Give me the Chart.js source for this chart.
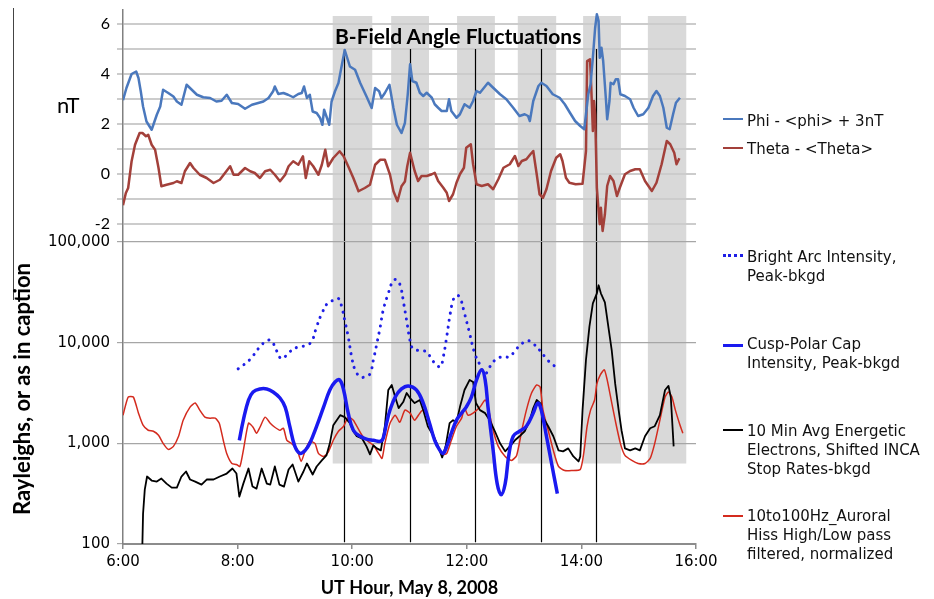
<!DOCTYPE html>
<html>
<head>
<meta charset="utf-8">
<script src="https://cdn.jsdelivr.net/npm/chart.js@4.4.1/dist/chart.umd.min.js"></script>
<style>
body { margin: 0; background: #fff; }
#wrap { position: relative; width: 934px; height: 599px; overflow: hidden; background: #fff; }
#wrap canvas { position: absolute; left: 0; }
.txt { position: absolute; white-space: nowrap; color: #000; }
.leg { position: absolute; left: 747px; font: 15px "DejaVu Sans"; line-height: 19px; white-space: nowrap; color: #111; }
.sw { position: absolute; left: 723px; width: 20px; height: 0; }
#ytitle { position: absolute; left: 22px; top: 389px; transform: translate(-50%, -50%) rotate(-90deg);
  font: bold 22px Lato; line-height: 24px; white-space: nowrap; color: #000; }
#edge { position: absolute; left: 13px; top: 8px; width: 0; height: 292px; border-left: 1.5px solid #444; }
</style>
</head>
<body>
<div id="wrap">
  <canvas id="topChart" width="934" height="242" style="top:0"></canvas>
  <canvas id="bottomChart" width="934" height="368" style="top:231px"></canvas>
  <div id="edge"></div>
  <div class="txt" style="left:335px;top:24px;font:bold 21px Lato;line-height:24px">B-Field Angle Fluctuations</div>
  <div class="txt" style="left:57px;top:92px;font:22px Lato;line-height:26px">nT</div>
  <div id="ytitle">Rayleighs, or as in caption</div>

  <div class="sw" style="top:118px;border-top:2.5px solid #4a78bd"></div>
  <div class="leg" style="top:112px">Phi - &lt;phi&gt; + 3nT</div>
  <div class="sw" style="top:147px;border-top:2.5px solid #a3403a"></div>
  <div class="leg" style="top:140px">Theta - &lt;Theta&gt;</div>

  <div class="sw" style="top:254px;border-top:3px dotted #1e1ee6"></div>
  <div class="leg" style="top:248px">Bright Arc Intensity,<br>Peak-bkgd</div>
  <div class="sw" style="top:344px;border-top:3px solid #1a1af0"></div>
  <div class="leg" style="top:335px">Cusp-Polar Cap<br>Intensity, Peak-bkgd</div>
  <div class="sw" style="top:429px;border-top:2px solid #000"></div>
  <div class="leg" style="top:422px">10 Min Avg Energetic<br>Electrons, Shifted INCA<br>Stop Rates-bkgd</div>
  <div class="sw" style="top:515px;border-top:2px solid #d42b1e"></div>
  <div class="leg" style="top:507px">10to100Hz_Auroral<br>Hiss High/Low pass<br>filtered, normalized</div>
</div>
<script>
// UT hour vs value
const phiSeries = [
  [6.0, 2.95], [6.06, 3.44], [6.15, 4.0], [6.23, 4.1], [6.27, 3.84], [6.31, 3.31], [6.35, 2.7], [6.41, 2.1],
  [6.50, 1.77], [6.59, 2.37], [6.65, 2.7], [6.70, 3.37], [6.79, 3.24], [6.88, 3.1], [6.94, 2.9], [7.02, 2.77],
  [7.11, 3.57], [7.20, 3.37], [7.29, 3.17], [7.40, 3.07], [7.52, 3.04], [7.63, 2.9], [7.72, 2.93], [7.81, 3.17],
  [7.90, 2.84], [8.01, 2.8], [8.13, 2.61], [8.25, 2.77], [8.36, 2.84], [8.45, 2.9], [8.54, 3.04], [8.62, 3.31],
  [8.65, 3.5], [8.71, 3.2], [8.80, 3.24], [8.88, 3.17], [8.97, 3.07], [9.06, 3.2], [9.12, 3.24], [9.16, 3.5],
  [9.21, 3.04], [9.26, 3.17], [9.31, 2.5], [9.38, 2.44], [9.44, 2.24], [9.48, 1.97], [9.51, 2.57], [9.56, 2.24],
  [9.60, 1.97], [9.64, 2.9], [9.70, 3.31], [9.76, 3.64], [9.82, 4.37], [9.87, 4.96], [9.96, 4.3], [10.05, 4.17],
  [10.14, 3.64], [10.25, 3.1], [10.34, 2.64], [10.40, 3.44], [10.47, 3.31], [10.51, 3.04], [10.57, 3.24],
  [10.65, 3.57], [10.72, 2.64], [10.78, 1.97], [10.86, 1.64], [10.92, 2.04], [10.97, 3.2], [11.01, 4.39],
  [11.05, 3.72], [11.12, 3.65], [11.18, 3.25], [11.24, 3.12], [11.30, 3.25], [11.39, 3.05], [11.44, 2.79],
  [11.50, 2.65], [11.56, 2.52], [11.65, 2.52], [11.69, 2.99], [11.73, 2.52], [11.82, 2.25], [11.88, 2.39],
  [11.96, 2.79], [12.05, 2.65], [12.11, 2.92], [12.17, 3.32], [12.23, 3.25], [12.37, 3.65], [12.46, 3.45],
  [12.58, 3.19], [12.69, 2.99], [12.81, 2.65], [12.92, 2.32], [13.01, 2.39], [13.07, 2.32], [13.10, 2.12],
  [13.16, 2.92], [13.25, 3.52], [13.30, 3.65], [13.39, 3.52], [13.50, 3.19], [13.62, 3.05], [13.71, 2.79],
  [13.80, 2.45], [13.89, 2.12], [13.98, 1.92], [14.05, 1.79], [14.08, 2.39], [14.12, 3.19], [14.16, 3.59],
  [14.20, 4.65], [14.24, 5.85], [14.27, 6.39], [14.30, 6.12], [14.32, 4.65], [14.35, 5.05], [14.38, 4.52],
  [14.43, 2.92], [14.45, 2.19], [14.49, 2.92], [14.51, 3.65], [14.56, 3.59], [14.60, 3.79], [14.64, 3.79],
  [14.68, 3.19], [14.76, 3.12], [14.85, 2.99], [14.91, 2.65], [14.99, 2.32], [15.08, 2.39], [15.17, 2.65],
  [15.25, 3.12], [15.31, 3.32], [15.37, 3.12], [15.43, 2.65], [15.49, 1.85], [15.54, 1.79], [15.60, 2.39],
  [15.65, 2.85], [15.72, 3.05]
];

const thetaSeries = [
  [6.0, -1.25], [6.05, -0.76], [6.09, -0.56], [6.15, 0.51], [6.21, 1.17], [6.29, 1.64], [6.34, 1.64], [6.40, 1.51],
  [6.44, 1.57], [6.50, 1.17], [6.56, 0.97], [6.62, 0.24], [6.67, -0.49], [6.76, -0.43], [6.88, -0.36], [6.94, -0.29],
  [7.02, -0.36], [7.08, 0.11], [7.17, 0.44], [7.23, 0.24], [7.34, -0.03], [7.46, -0.16], [7.58, -0.36], [7.69, -0.23],
  [7.78, 0.04], [7.87, 0.31], [7.93, -0.03], [8.01, -0.03], [8.13, 0.24], [8.22, 0.11], [8.30, 0.04], [8.39, -0.16],
  [8.48, 0.11], [8.57, 0.17], [8.65, -0.03], [8.74, -0.29], [8.83, -0.03], [8.89, 0.31], [8.97, 0.51], [9.06, 0.37],
  [9.14, 0.71], [9.19, -0.16], [9.25, 0.51], [9.32, 0.31], [9.41, -0.03], [9.47, 0.37], [9.53, 0.97], [9.58, 0.31],
  [9.67, 0.64], [9.78, 0.91], [9.85, 0.71], [9.93, 0.31], [10.02, -0.16], [10.11, -0.69], [10.22, -0.56],
  [10.31, -0.43], [10.40, 0.37], [10.49, 0.57], [10.57, 0.57], [10.66, -0.03], [10.72, -0.69], [10.79, -1.09],
  [10.86, -0.49], [10.92, -0.3], [10.96, 0.3], [11.01, 0.85], [11.09, 0.12], [11.15, -0.28], [11.21, -0.08],
  [11.30, -0.08], [11.39, -0.01], [11.44, 0.05], [11.50, -0.28], [11.59, -0.55], [11.65, -0.75], [11.69, -1.08],
  [11.76, -0.81], [11.82, -0.35], [11.88, -0.01], [11.95, 0.25], [11.99, 1.05], [12.07, 1.19], [12.11, 0.39],
  [12.17, -0.41], [12.26, -0.48], [12.37, -0.41], [12.46, -0.61], [12.55, -0.21], [12.64, 0.25], [12.75, 0.39],
  [12.84, 0.72], [12.90, 0.32], [12.96, 0.52], [13.04, 0.59], [13.11, 0.79], [13.16, 0.92], [13.22, -0.01],
  [13.27, -0.81], [13.33, -0.95], [13.39, -0.61], [13.47, 0.12], [13.56, 0.65], [13.63, 0.79], [13.67, 0.52],
  [13.73, -0.15], [13.79, -0.35], [13.90, -0.41], [14.02, -0.39], [14.08, 0.92], [14.10, 4.52], [14.15, 4.59],
  [14.17, 3.59], [14.20, 1.72], [14.22, 2.92], [14.24, 2.39], [14.27, -0.55], [14.30, -1.48], [14.32, -2.01],
  [14.34, -1.35], [14.37, -2.28], [14.41, -1.61], [14.45, -0.48], [14.50, -0.08], [14.56, -0.28], [14.62, -0.88],
  [14.67, -0.55], [14.76, -0.01], [14.85, 0.12], [14.94, 0.19], [15.02, 0.19], [15.11, -0.28], [15.23, -0.68],
  [15.31, -0.35], [15.40, 0.39], [15.49, 1.32], [15.55, 1.19], [15.62, 0.85], [15.66, 0.39], [15.71, 0.63]
];

const arcSeries = [
  [8.01, 5500], [8.21, 6760], [8.39, 9120], [8.51, 10470], [8.59, 10470], [8.68, 8320], [8.77, 6920], [8.91, 8130],
  [9.06, 9120], [9.18, 9330], [9.29, 10230], [9.38, 14450], [9.47, 19500], [9.58, 25100], [9.67, 26300],
  [9.76, 27500], [9.82, 22400], [9.87, 16600], [9.93, 11500], [9.99, 7240], [10.05, 5370], [10.14, 4570],
  [10.22, 4570], [10.31, 4900], [10.37, 6760], [10.43, 9770], [10.49, 14450], [10.54, 20900], [10.63, 30900],
  [10.72, 41700], [10.79, 41700], [10.85, 35000], [10.89, 26300], [10.95, 16600], [11.01, 10470], [11.06, 8710],
  [11.18, 8320], [11.30, 8130], [11.38, 6920], [11.47, 6030], [11.54, 5750], [11.59, 7240], [11.65, 11480],
  [11.70, 17780], [11.76, 26300], [11.82, 29500], [11.88, 28200], [11.96, 19500], [12.05, 12300], [12.14, 7760],
  [12.23, 6030], [12.32, 4900], [12.40, 5750], [12.52, 6920], [12.64, 7240], [12.75, 7240], [12.84, 8320],
  [12.96, 9770], [13.07, 10470], [13.16, 9770], [13.28, 8320], [13.39, 6920], [13.48, 6170], [13.58, 5620]
];

const cuspSeries = [
  [8.03, 1072], [8.10, 1700], [8.19, 2690], [8.27, 3240], [8.39, 3470], [8.51, 3470], [8.62, 3240], [8.74, 2820],
  [8.83, 2290], [8.91, 1480], [9.00, 933], [9.09, 794], [9.18, 851], [9.26, 1000], [9.38, 1480], [9.50, 2290],
  [9.61, 3390], [9.70, 4070], [9.78, 4270], [9.85, 3390], [9.93, 2000], [10.02, 1350], [10.14, 1175], [10.25, 1100],
  [10.37, 1072], [10.49, 1047], [10.54, 1122], [10.60, 1585], [10.66, 2140], [10.75, 2880], [10.86, 3470],
  [10.98, 3720], [11.12, 3390], [11.24, 2510], [11.35, 1585], [11.44, 1072], [11.53, 851], [11.59, 794],
  [11.65, 933], [11.73, 1260], [11.82, 1700], [11.91, 2000], [11.99, 2290], [12.08, 2880], [12.17, 4270],
  [12.26, 5370], [12.32, 4270], [12.37, 2290], [12.46, 851], [12.53, 398], [12.60, 309], [12.67, 398], [12.73, 741],
  [12.81, 1175], [12.92, 1318], [13.04, 1479], [13.16, 2000], [13.24, 2510], [13.30, 2140], [13.39, 1175],
  [13.48, 631], [13.58, 316]
];

const electronSeries = [
  [6.33, 60], [6.35, 200], [6.38, 347], [6.42, 468], [6.50, 427], [6.59, 417], [6.67, 447], [6.76, 398], [6.85, 363],
  [6.94, 363], [7.02, 468], [7.10, 525], [7.17, 437], [7.26, 417], [7.37, 389], [7.46, 437], [7.58, 437], [7.69, 468],
  [7.81, 501], [7.91, 562], [7.98, 501], [8.03, 295], [8.10, 398], [8.19, 562], [8.26, 372], [8.33, 355], [8.42, 562],
  [8.51, 398], [8.57, 389], [8.65, 589], [8.73, 389], [8.81, 372], [8.89, 550], [8.96, 617], [9.06, 417], [9.15, 525],
  [9.21, 631], [9.31, 490], [9.38, 589], [9.47, 676], [9.55, 759], [9.61, 1000], [9.67, 1514], [9.79, 1905],
  [9.87, 1820], [9.96, 1585], [10.02, 1318], [10.08, 1175], [10.17, 1122], [10.25, 933], [10.31, 776], [10.37, 955],
  [10.43, 891], [10.50, 851], [10.57, 1479], [10.63, 3390], [10.69, 3802], [10.75, 2884], [10.81, 2239],
  [10.89, 2570], [10.95, 3162], [11.01, 2818], [11.09, 2512], [11.18, 2692], [11.24, 2138], [11.32, 1479],
  [11.41, 1202], [11.50, 933], [11.57, 724], [11.63, 933], [11.70, 1585], [11.76, 1698], [11.82, 1622], [11.88, 2291],
  [11.96, 3388], [12.05, 4266], [12.11, 4074], [12.16, 2512], [12.23, 2138], [12.32, 1995], [12.40, 1698],
  [12.49, 1318], [12.58, 1000], [12.67, 832], [12.75, 933], [12.84, 1072], [12.92, 1175], [13.01, 1318],
  [13.10, 1698], [13.16, 2239], [13.22, 2692], [13.28, 2512], [13.33, 1820], [13.42, 1479], [13.51, 1175],
  [13.60, 851], [13.68, 832], [13.77, 891], [13.86, 741], [13.95, 661], [13.98, 741], [14.02, 2138], [14.08, 6761],
  [14.14, 14454], [14.20, 24547], [14.27, 30903], [14.30, 37154], [14.34, 30903], [14.41, 25119], [14.47, 14454],
  [14.53, 8318], [14.59, 3890], [14.65, 2138], [14.70, 1349], [14.76, 891], [14.85, 851], [14.94, 891], [15.02, 851],
  [15.11, 1175], [15.20, 1413], [15.28, 1479], [15.37, 1905], [15.46, 3388], [15.52, 3715], [15.56, 2884], [15.61, 933]
];

const hissSeries = [
  [6.0, 1900], [6.09, 2884], [6.18, 2884], [6.27, 1995], [6.35, 1514], [6.44, 1349], [6.53, 1318], [6.62, 1202],
  [6.70, 1000], [6.79, 871], [6.88, 933], [6.97, 1175], [7.05, 1698], [7.17, 2291], [7.26, 2512], [7.34, 2138],
  [7.43, 1820], [7.52, 1778], [7.61, 1778], [7.68, 1585], [7.75, 1072], [7.81, 794], [7.90, 631], [7.98, 617],
  [8.04, 589], [8.10, 851], [8.19, 1585], [8.27, 1445], [8.33, 1259], [8.39, 1445], [8.48, 1820], [8.57, 1585],
  [8.65, 1445], [8.74, 1349], [8.80, 1413], [8.86, 1072], [8.94, 1000], [9.03, 891], [9.11, 661], [9.18, 851],
  [9.26, 1047], [9.35, 1000], [9.41, 794], [9.50, 741], [9.58, 813], [9.67, 1072], [9.76, 1318], [9.85, 1479],
  [9.93, 1820], [10.02, 1698], [10.08, 1479], [10.17, 1202], [10.25, 1072], [10.37, 955], [10.46, 794], [10.52, 708],
  [10.57, 1000], [10.66, 1585], [10.75, 1905], [10.83, 1622], [10.92, 2138], [11.01, 1995], [11.09, 1698],
  [11.18, 1995], [11.24, 2138], [11.32, 1820], [11.41, 1259], [11.50, 933], [11.59, 776], [11.65, 794], [11.73, 1072],
  [11.82, 1479], [11.91, 1778], [11.96, 2239], [12.02, 1905], [12.11, 1995], [12.23, 2291], [12.32, 2692],
  [12.37, 2291], [12.46, 1349], [12.55, 933], [12.67, 741], [12.78, 676], [12.87, 759], [12.96, 1349], [13.04, 2138],
  [13.13, 3162], [13.22, 3802], [13.28, 3631], [13.33, 2138], [13.42, 1349], [13.51, 851], [13.60, 589], [13.71, 537],
  [13.83, 537], [13.98, 550], [14.04, 794], [14.10, 1479], [14.16, 2138], [14.23, 2692], [14.27, 3890], [14.33, 4786],
  [14.40, 5370], [14.45, 4266], [14.52, 2692], [14.59, 1698], [14.68, 1000], [14.76, 759], [14.88, 676], [14.99, 631],
  [15.11, 631], [15.20, 708], [15.28, 1000], [15.37, 1698], [15.46, 2884], [15.52, 3236], [15.58, 2884],
  [15.64, 2138], [15.71, 1585], [15.77, 1259]
];

// shaded intervals and marker lines (UT hours)
const bandStarts = [9.66, 10.68, 11.83, 12.89, 14.03, 15.16];
const bandEnds = [10.35, 11.34, 12.49, 13.56, 14.69, 15.83];
const markerHours = [9.86, 11.01, 12.14, 13.30, 14.25];

const xTicks = [6, 8, 10, 12, 14, 16];
const nTLabels = [-2, 0, 2, 4, 6];
const logTicks = [100, 1000, 10000, 100000];

const toPoints = s => s.map(([x, y]) => ({ x, y }));

// band/marker vertical extent per panel, in that panel's y units: [bandTop, bandBottom, markerTop, markerBottom]
const topPanelSpan = [6.32, -2.72, 5, -2.72];
const bottomPanelSpan = [100000, 630, 100000, 104];

function panelPlugin(span) {
  return {
    id: 'panelMarks',
    // grey bands behind the grid
    beforeDraw(chart) {
      const { ctx, scales: { x, y } } = chart;
      const top = y.getPixelForValue(span[0]);
      const bottom = y.getPixelForValue(span[1]);
      ctx.save();
      ctx.fillStyle = '#d9d9d9';
      bandStarts.forEach((s, i) => {
        const l = x.getPixelForValue(s);
        const r = x.getPixelForValue(bandEnds[i]);
        ctx.fillRect(l, top, r - l, bottom - top);
      });
      ctx.restore();
    },
    // black vertical lines
    beforeDatasetsDraw(chart) {
      const { ctx, scales: { x, y } } = chart;
      const top = y.getPixelForValue(span[2]);
      const bottom = y.getPixelForValue(span[3]);
      ctx.save();
      ctx.strokeStyle = '#000';
      ctx.lineWidth = 1.2;
      markerHours.forEach(h => {
        const px = Math.round(x.getPixelForValue(h)) + 0.5;
        ctx.beginPath();
        ctx.moveTo(px, top);
        ctx.lineTo(px, bottom);
        ctx.stroke();
      });
      ctx.restore();
    }
  };
}

const tickFont = { family: 'DejaVu Sans', size: 15 };
const fixLeft = axis => { axis.width = 123; axis.paddingTop = 0; axis.paddingBottom = 0; };

const xBase = {
  type: 'linear', min: 6, max: 16,
  afterBuildTicks: axis => { axis.ticks = xTicks.map(v => ({ value: v })); }
};

new Chart(document.getElementById('topChart'), {
  type: 'line',
  data: {
    datasets: [
      { label: 'Phi - <phi> + 3nT', data: toPoints(phiSeries), borderColor: '#4a78bd', borderWidth: 2.5 },
      { label: 'Theta - <Theta>', data: toPoints(thetaSeries), borderColor: '#a3403a', borderWidth: 2.5 }
    ]
  },
  options: {
    responsive: false,
    devicePixelRatio: 1,
    animation: false,
    elements: { point: { radius: 0 }, line: { borderJoinStyle: 'round' } },
    layout: { padding: { top: 10, right: 238, bottom: 0, left: 0 } },
    plugins: { legend: { display: false }, tooltip: { enabled: false } },
    scales: {
      x: { ...xBase, display: false },
      y: {
        type: 'linear', min: -2.72, max: 6.56,
        afterFit: fixLeft,
        ticks: { stepSize: 1, includeBounds: false, font: { family: 'Lato', size: 16 }, color: '#000', padding: 7,
          callback: v => nTLabels.includes(v) ? String(v) : '' },
        grid: { color: '#cccccc', lineWidth: 2, tickLength: 6 },
        border: { color: '#808080', width: 1.5 }
      }
    }
  },
  plugins: [panelPlugin(topPanelSpan)]
});

new Chart(document.getElementById('bottomChart'), {
  type: 'line',
  data: {
    datasets: [
      { label: 'Bright Arc Intensity, Peak-bkgd', data: toPoints(arcSeries),
        borderColor: '#1e1ee6', borderWidth: 3, borderDash: [0.1, 7], borderCapStyle: 'round', tension: 0.4 },
      { label: 'Cusp-Polar Cap Intensity, Peak-bkgd', data: toPoints(cuspSeries),
        borderColor: '#1a1af0', borderWidth: 3.5, tension: 0.4 },
      { label: '10 Min Avg Energetic Electrons, Shifted INCA Stop Rates-bkgd', data: toPoints(electronSeries),
        borderColor: '#000', borderWidth: 1.8 },
      { label: '10to100Hz_Auroral Hiss High/Low pass filtered, normalized', data: toPoints(hissSeries),
        borderColor: '#d42b1e', borderWidth: 1.5, tension: 0.2 }
    ]
  },
  options: {
    responsive: false,
    devicePixelRatio: 1,
    animation: false,
    elements: { point: { radius: 0 }, line: { borderJoinStyle: 'round' } },
    layout: { padding: { top: 11, right: 238, bottom: 0, left: 0 } },
    plugins: { legend: { display: false }, tooltip: { enabled: false } },
    scales: {
      x: {
        ...xBase,
        afterFit: axis => { axis.height = 55; },
        ticks: { font: tickFont, color: '#000', padding: 4, callback: v => v + ':00' },
        grid: { drawOnChartArea: false, tickLength: 5, color: '#8c8c8c', lineWidth: 1.5 },
        border: { color: '#8c8c8c', width: 2 },
        title: { display: true, text: 'UT Hour, May 8, 2008', color: '#000',
          font: { family: 'Lato', size: 18, weight: 'bold' }, padding: { top: 0, bottom: 0 } }
      },
      y: {
        type: 'logarithmic', min: 100, max: 100000,
        afterBuildTicks: axis => { axis.ticks = logTicks.map(v => ({ value: v })); },
        afterFit: fixLeft,
        ticks: { font: tickFont, color: '#000', padding: 7, callback: v => Number(v).toLocaleString('en-US') },
        grid: { color: '#a6a6a6', lineWidth: 1.2, tickLength: 6 },
        border: { color: '#808080', width: 1.5 }
      }
    }
  },
  plugins: [panelPlugin(bottomPanelSpan)]
});
</script>
</body>
</html>
